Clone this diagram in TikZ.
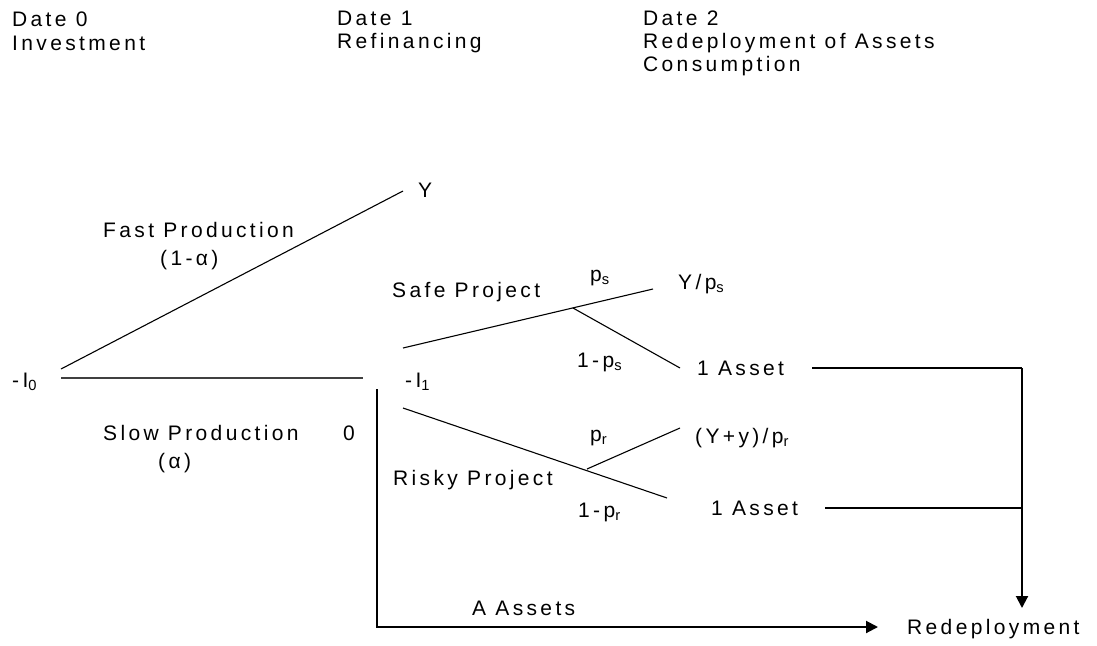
\documentclass[tikz,border=0pt]{standalone}
\usepackage{fontspec}
\setmainfont{Liberation Sans}[LetterSpace=16]
\usetikzlibrary{arrows.meta}

\begin{document}
\begin{tikzpicture}[x=1pt,y=-1pt,
  lbl/.style={anchor=base west,inner sep=0pt,font=\fontsize{21}{25}\selectfont},
  branch/.style={line width=1.1pt,black},
  flow/.style={line width=2pt,black},
  flowarrow/.style={flow,-{Triangle[length=12pt,width=12pt]}}
]
\useasboundingbox (0,0) rectangle (1097,645);

% timeline headings
\node[lbl] (d0a) at (12,27) {Date 0};
\node[lbl] (d0b) at (12,50) {Investment};
\node[lbl] (d1a) at (337,25) {Date 1};
\node[lbl] (d1b) at (337,48) {Refinancing};
\node[lbl] (d2a) at (643,25) {Date 2};
\node[lbl] (d2b) at (643,48) {Redeployment of Assets};
\node[lbl] (d2c) at (643,71) {Consumption};

% date 0 and date 1 positions
\node[lbl] (i0) at (12,387) {-I\textsubscript{0}};
\node[lbl] (i1) at (405,387) {-I\textsubscript{1}};
\node[lbl] (y0) at (418,197) {Y};

% production choice labels
\node[lbl] (fast) at (103,237) {Fast Production};
\node[lbl] (fasta) at (160,265) {(1-α)};
\node[lbl] (slow) at (103,440) {Slow Production};
\node[lbl] (zero) at (343,440) {0};
\node[lbl] (slowa) at (158,468) {(α)};

% project labels
\node[lbl] (safe) at (392,297) {Safe Project};
\node[lbl] (risky) at (393,485) {Risky Project};
\node[lbl] (ps) at (590,281) {p\textsubscript{s}};
\node[lbl] (qs) at (577,367) {1-p\textsubscript{s}};
\node[lbl] (pr) at (590,441) {p\textsubscript{r}};
\node[lbl] (qr) at (578,517) {1-p\textsubscript{r}};

% date 2 outcomes
\node[lbl] (ysafe) at (678,289) {Y/p\textsubscript{s}};
\node[lbl] (asafe) at (697,375) {1 Asset};
\node[lbl] (yrisky) at (695,443) {(Y+y)/p\textsubscript{r}};
\node[lbl] (arisky) at (711,515) {1 Asset};
\node[lbl] (aassets) at (472,615) {A Assets};
\node[lbl] (redep) at (907,634) {Redeployment};

% line end points
\coordinate (i0r) at (61,378);
\coordinate (i0u) at (61,369);
\coordinate (yl) at (403,191);
\coordinate (slowend) at (363,378);
\coordinate (sa) at (403,348);
\coordinate (sb) at (653,289);
\coordinate (sfork) at (573,308);
\coordinate (sfail) at (680,368);
\coordinate (ra) at (403,408);
\coordinate (rb) at (667,498);
\coordinate (rfork) at (587,469);
\coordinate (rwin) at (680,428);
\coordinate (vtop) at (377,389);
\coordinate (vbot) at (377,627);
\coordinate (redl) at (878,627);
\coordinate (l1) at (812,368);
\coordinate (l2) at (825,508);
\coordinate (c1) at (1022,368);
\coordinate (c2) at (1022,508);
\coordinate (ctip) at (1022,608);

% tree branches
\draw[branch] (i0u) -- (yl);
\draw[branch,line width=1.4pt,black!75] (i0r) -- (slowend);
\draw[branch] (sa) -- (sb);
\draw[branch] (sfork) -- (sfail);
\draw[branch] (ra) -- (rb);
\draw[branch] (rfork) -- (rwin);

% asset flows to redeployment
\draw[branch] (l1) -- (c1);
\draw[branch] (l2) -- (c2);
\draw[flowarrow] (c1) -- (ctip);
\draw[flowarrow] (vtop) -- (vbot) -- (redl);
\end{tikzpicture}
\end{document}
